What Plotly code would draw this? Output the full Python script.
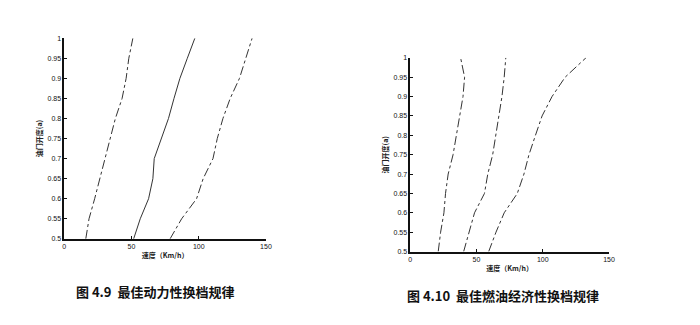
import plotly.graph_objects as go

throttle = [0.5, 0.55, 0.6, 0.65, 0.7, 0.75, 0.8, 0.85, 0.9, 0.95, 1.0]

# Fig 4.9 best dynamic shift schedule (speed km/h)
dyn_12 = [16, 18.4, 22.6, 26.5, 30.7, 34.5, 38, 43, 46, 48, 51]
dyn_23 = [51.6, 56.5, 62.7, 65.9, 66.9, 72.5, 77.5, 81.6, 86, 91.5, 97.1]
dyn_34 = [78.7, 87.3, 98.4, 103.3, 110.6, 113.8, 118, 123.4, 130.3, 135.2, 139.7]

# Fig 4.10 best fuel economy shift schedule (speed km/h)
eco_12 = [21.1, 22.9, 25.4, 26.6, 28.6, 32.3, 34.8, 37.3, 39.8, 41, 38]
eco_23 = [40.3, 44.3, 48.5, 56, 58.5, 62.2, 64.7, 66.7, 69.2, 70.9, 72.1]
eco_34 = [59.2, 64.7, 70.9, 80.8, 85.8, 89.6, 94.5, 99.5, 107, 116.9, 132.6]

x_ticks = [0, 50, 100, 150]
y_ticks = [0.5, 0.55, 0.6, 0.65, 0.7, 0.75, 0.8, 0.85, 0.9, 0.95, 1]
y_labels = ["0.5", "0.55", "0.6", "0.65", "0.7", "0.75", "0.8", "0.85", "0.9", "0.95", "1"]

x_title = "速度（Km/h）"
y_title = "油门开度(a)"
cap_left = "图 4.9  最佳动力性换档规律"
cap_right = "图 4.10  最佳燃油经济性换档规律"

W, H = 700, 325
fig = go.Figure()
lc = "#333333"

for ys, dash in [(dyn_12, "dashdot"), (dyn_23, "solid"), (dyn_34, "dashdot")]:
    fig.add_trace(go.Scatter(x=ys, y=throttle, mode="lines", xaxis="x", yaxis="y",
                             line=dict(color=lc, width=1, dash=dash), showlegend=False))
for ys, dash in [(eco_12, "dashdot"), (eco_23, "dashdot"), (eco_34, "dashdot")]:
    fig.add_trace(go.Scatter(x=ys, y=throttle, mode="lines", xaxis="x2", yaxis="y2",
                             line=dict(color=lc, width=1, dash=dash), showlegend=False))

font_cjk = "Noto Sans CJK SC"
tickfont = dict(family="Liberation Sans Narrow, Liberation Sans, Arial", size=7, color="#111")

def xax(domain, anchor):
    return dict(domain=domain, anchor=anchor, range=[0, 150], tickvals=x_ticks,
                showline=True, linecolor="#111", linewidth=1.5, ticks="inside", ticklen=3,
                tickcolor="#111", showgrid=False, zeroline=False, tickfont=tickfont,
                title=dict(text="<b>" + x_title + "</b>", font=dict(family=font_cjk, size=7, color="#222"), standoff=4))

def yax(domain, anchor):
    return dict(domain=domain, anchor=anchor, range=[0.5, 1], tickvals=y_ticks, ticktext=y_labels,
                showline=True, linecolor="#111", linewidth=1.5, ticks="inside", ticklen=3,
                tickcolor="#111", showgrid=False, zeroline=False, tickfont=tickfont,
                title=dict(text="<b>" + y_title + "</b>", font=dict(family=font_cjk, size=7, color="#222"), standoff=4))

fig.update_layout(
    width=W, height=H, margin=dict(l=0, r=0, t=0, b=0),
    paper_bgcolor="white", plot_bgcolor="white",
    xaxis=xax([63 / W, 267 / W], "y"),
    yaxis=yax([(H - 240) / H, (H - 35) / H], "x"),
    xaxis2=xax([413 / W, 614 / W], "y2"),
    yaxis2=yax([(H - 253) / H, (H - 55) / H], "x2"),
    annotations=[
        dict(text="<b>" + cap_left + "</b>", xref="paper", yref="paper", x=155 / W, y=(H - 294) / H,
             showarrow=False, xanchor="center", yanchor="middle",
             font=dict(family=font_cjk, size=13, color="#111")),
        dict(text="<b>" + cap_right + "</b>", xref="paper", yref="paper", x=507 / W, y=(H - 298) / H,
             showarrow=False, xanchor="center", yanchor="middle",
             font=dict(family=font_cjk, size=13, color="#111")),
    ],
)

fig.write_html("out.html")
